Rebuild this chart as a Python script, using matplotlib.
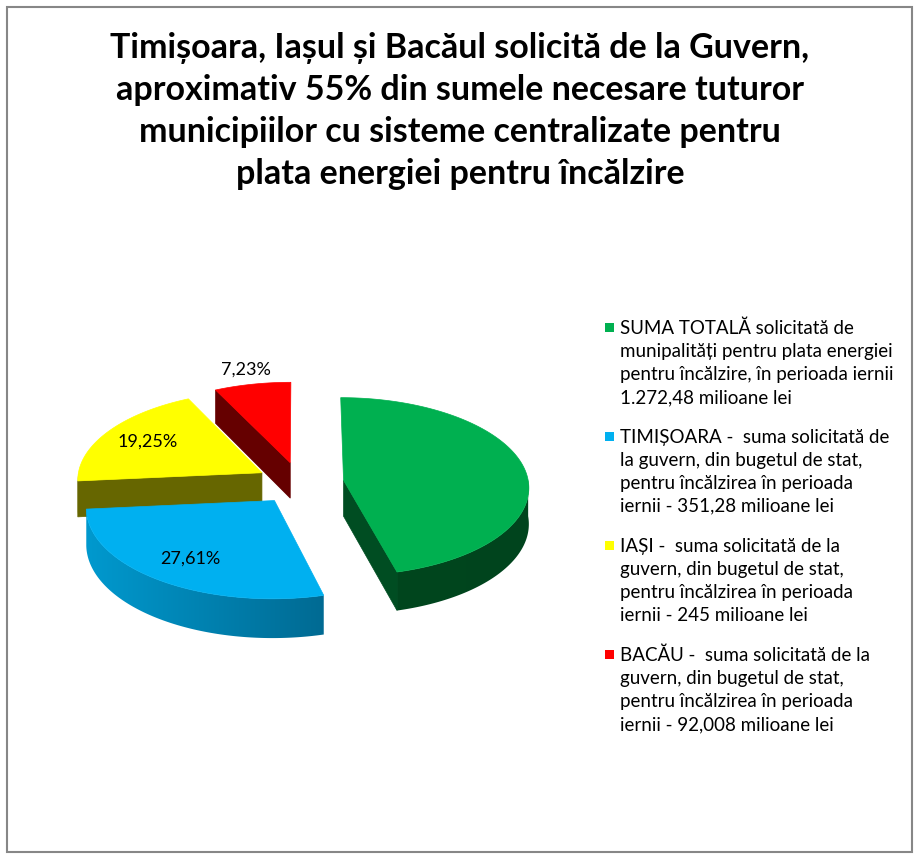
import numpy as np
import matplotlib
import matplotlib.pyplot as plt
from matplotlib.patches import Polygon, Rectangle
from matplotlib.colors import LinearSegmentedColormap

matplotlib.use('agg')

# data (milioane lei)
total_amount = 1272.48
city_names = ['TIMIȘOARA', 'IAȘI', 'BACĂU']
city_amounts = [351.28, 245.0, 92.008]
pct_labels = ['', '27,61%', '19,25%', '7,23%']

top_colors = ['#00B050', '#00B0F0', '#FFFF00', '#FF0000']
wall_light = ['#00491F', '#009CD2', '#6B6B00', '#660000']
wall_dark = ['#00441D', '#004C6C', '#5E5E00', '#660000']
face_colors = ['#004D22', '#005A7A', '#666600', '#650000']

legend_texts = [
    'SUMA TOTALĂ solicitată de\nmunipalități pentru plata energiei\n'
    'pentru încălzire, în perioada iernii\n1.272,48 milioane lei',
    'TIMIȘOARA -  suma solicitată de\nla guvern, din bugetul de stat,\n'
    'pentru încălzirea în perioada\niernii - 351,28 milioane lei',
    'IAȘI -  suma solicitată de la\nguvern, din bugetul de stat,\n'
    'pentru încălzirea în perioada\niernii - 245 milioane lei',
    'BACĂU -  suma solicitată de la\nguvern, din bugetul de stat,\n'
    'pentru încălzirea în perioada\niernii - 92,008 milioane lei',
]

title = ('Timișoara, Iașul și Bacăul solicită de la Guvern,\n'
         'aproximativ 55% din sumele necesare tuturor\n'
         'municipiilor cu sisteme centralizate pentru\n'
         'plata energiei pentru încălzire')

# the green slice is what is left of the total
values = [total_amount - sum(city_amounts)] + city_amounts

plt.rcParams['font.family'] = ['Lato', 'DejaVu Sans']

W, H = 921, 857
fig = plt.figure(figsize=(W / 100, H / 100), dpi=100)
ax = fig.add_axes([0, 0, 1, 1])
ax.set_xlim(0, W)
ax.set_ylim(H, 0)
ax.axis('off')

# pie geometry in pixels
cx, cy = 300, 483
R = 185
K = 0.48
DEPTH = 36
EXPLODE = 44
PERSP = 0.07


def proj(X, Y, Z=0.0):
    s = 1.0 / (1.0 + PERSP * Y / R)
    return cx + X * s, cy - Y * K * s + Z * s


fracs = np.array(values) / sum(values)
slices = []
start = 90.0
for f in fracs:
    end = start - f * 360.0
    slices.append((end, start))
    start = end

# back to front
order = [3, 2, 0, 1]
for i in order:
    a0, a1 = slices[i]
    mid = np.radians((a0 + a1) / 2)
    ox, oy = EXPLODE * np.cos(mid), EXPLODE * np.sin(mid)

    # outer wall, only the front half shows
    lo, hi = max(a0, -180.0), min(a1, 0.0)
    if a1 > 180:
        lo, hi = 180.0, a1
    if hi > lo:
        th = np.radians(np.linspace(lo, hi, 150))
        upper = [proj(ox + R * np.cos(t), oy + R * np.sin(t)) for t in th]
        lower = [proj(ox + R * np.cos(t), oy + R * np.sin(t), DEPTH) for t in th[::-1]]
        wall = Polygon(upper + lower, closed=True, facecolor='none',
                       edgecolor='none')
        ax.add_patch(wall)
        ys = [p[1] for p in upper + lower]
        cmap = LinearSegmentedColormap.from_list(
            'w%d' % i, [wall_light[i], wall_dark[i]])
        grad = np.linspace(0, 1, 256).reshape(1, -1)
        x_left, x_right = ox + cx - R * 1.1, ox + cx + R * 1.1
        im = ax.imshow(grad, cmap=cmap, aspect='auto',
                       extent=(x_left, x_right, max(ys) + 1, min(ys) - 1),
                       interpolation='bilinear', zorder=1)
        im.set_clip_path(wall)

    # cut faces
    for a, side in [(a0, -1), (a1, 1)]:
        normal = np.radians(a + side * 90)
        if np.sin(normal) >= -0.01:
            continue
        ex, ey = ox + R * np.cos(np.radians(a)), oy + R * np.sin(np.radians(a))
        pts = [proj(ox, oy), proj(ex, ey), proj(ex, ey, DEPTH), proj(ox, oy, DEPTH)]
        ax.add_patch(Polygon(pts, closed=True, facecolor=face_colors[i],
                             edgecolor=face_colors[i], lw=0.5, zorder=1))

    # top
    th = np.radians(np.linspace(a0, a1, 200))
    top = [proj(ox, oy)] + [proj(ox + R * np.cos(t), oy + R * np.sin(t)) for t in th]
    ax.add_patch(Polygon(top, closed=True, facecolor=top_colors[i],
                         edgecolor=top_colors[i], lw=0.5, zorder=1))

    if pct_labels[i]:
        dist = 1.2 * R if i == 3 else 0.74 * R
        lx, ly = proj(ox + dist * np.cos(mid), oy + dist * np.sin(mid))
        ax.text(lx, ly, pct_labels[i], ha='center', va='center',
                fontsize=13, color='black', zorder=3)

# title
fig.text(460 / W, 1 - 111 / H, title, ha='center', va='center',
         fontsize=24.5, fontweight='bold', linespacing=1.38)

# legend
leg_x, leg_y0, leg_step = 620, 363, 109
for i, txt in enumerate(legend_texts):
    y = leg_y0 + i * leg_step
    ax.add_patch(Rectangle((605, y - 40.5), 9, 9, facecolor=top_colors[i],
                           edgecolor='none', zorder=2))
    ax.text(leg_x, y, txt, ha='left', va='center', fontsize=13.5,
            linespacing=1.42, zorder=3)

# frame
ax.add_patch(Rectangle((6.5, 6.5), 905, 845, facecolor='none',
                       edgecolor='#878787', lw=1.5, zorder=4))

fig.savefig('out.png', dpi=100)
